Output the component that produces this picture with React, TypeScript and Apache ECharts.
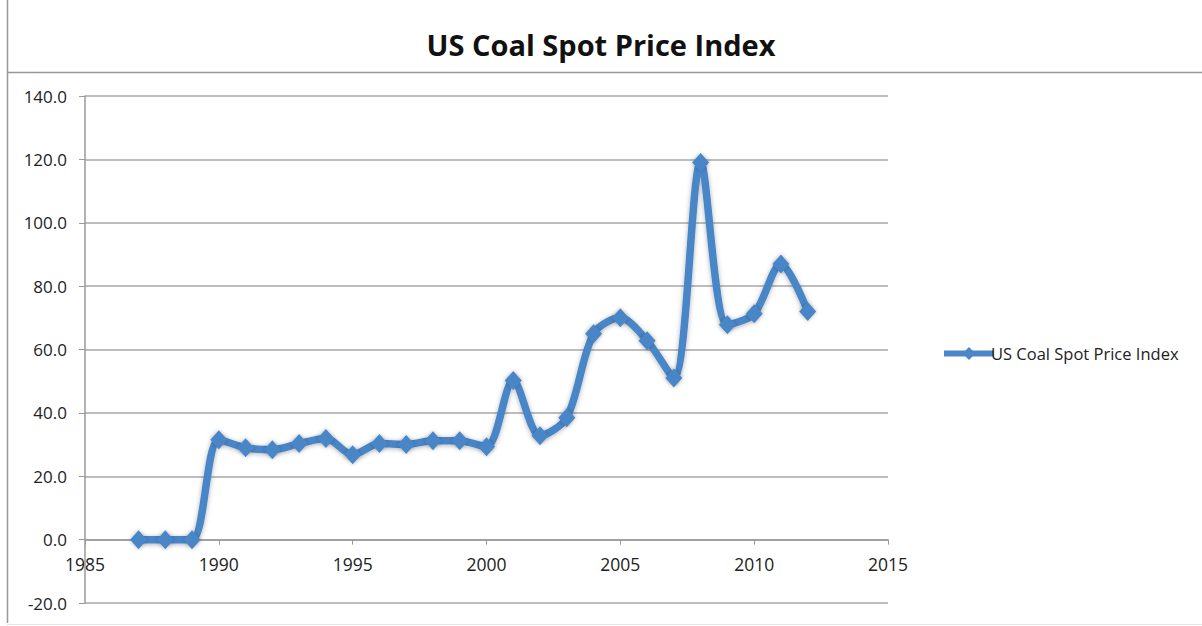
import React, { useEffect, useRef } from "react";
import * as echarts from "echarts";

const years = [1987, 1988, 1989, 1990, 1991, 1992, 1993, 1994, 1995, 1996, 1997, 1998, 1999, 2000, 2001, 2002, 2003, 2004, 2005, 2006, 2007, 2008, 2009, 2010, 2011, 2012];
const values = [0, 0, 0, 31.5, 29, 28.4, 30.3, 31.9, 26.8, 30.3, 30, 31.2, 31.2, 29.3, 50.2, 32.8, 38.5, 65, 70, 62.8, 51, 119, 67.8, 71.3, 87, 72];
const seriesName = "US Coal Spot Price Index";
const titleText = "US Coal Spot Price Index";

export default function App() {
  const ref = useRef<HTMLDivElement>(null);
  useEffect(() => {
    const chart = echarts.init(ref.current!, null, { renderer: "svg" });
    const blue = "#4a86c8";
    const font = "Open Sans";
    chart.setOption({
      animation: false,
      backgroundColor: "#ffffff",
      title: {
        text: titleText,
        left: "center",
        top: 25,
        textStyle: { fontFamily: font, fontSize: 29, fontWeight: "bold", color: "#111" },
      },
      graphic: [
        { type: "line", shape: { x1: 7.5, y1: 0, x2: 7.5, y2: 623 }, style: { stroke: "#999", lineWidth: 1.5 } },
        { type: "line", shape: { x1: 7, y1: 72.5, x2: 1202, y2: 72.5 }, style: { stroke: "#999", lineWidth: 1.5 } },
        { type: "line", shape: { x1: 7, y1: 624.5, x2: 1202, y2: 624.5 }, style: { stroke: "#e4e4e4", lineWidth: 1 } },
      ],
      legend: {
        data: [seriesName],
        left: 936,
        top: 340,
        itemWidth: 50,
        itemHeight: 16,
        itemGap: 0,
        lineStyle: { width: 6 },
        textStyle: { fontFamily: font, fontSize: 16.5, color: "#222", padding: [0, 0, 0, -8] },
      },
      grid: { left: 85, right: 314, top: 96, bottom: 23, containLabel: false },
      xAxis: {
        type: "value",
        min: 1985,
        max: 2015,
        interval: 5,
        axisLine: { onZero: true, lineStyle: { color: "#999", width: 1.5 } },
        axisTick: { show: true, length: 5, inside: false, lineStyle: { color: "#999" } },
        axisLabel: { fontFamily: font, fontSize: 17.5, color: "#222", margin: -48, formatter: (v: number) => String(v) },
        splitLine: { show: false },
      },
      yAxis: {
        type: "value",
        min: -20,
        max: 140,
        interval: 20,
        axisLine: { show: true, lineStyle: { color: "#999", width: 1.5 } },
        axisTick: { show: true, length: 6, lineStyle: { color: "#999" } },
        axisLabel: { fontFamily: font, fontSize: 17, color: "#222", margin: 18, formatter: (v: number) => v.toFixed(1) },
        splitLine: { show: true, lineStyle: { color: "#bdbdbd", width: 2 } },
      },
      series: [
        {
          name: seriesName,
          type: "line",
          data: years.map((y, i) => [y, values[i]]),
          smooth: 0.3,
          symbol: "diamond",
          symbolSize: [17, 19],
          itemStyle: { color: blue, shadowBlur: 4, shadowColor: "rgba(0,0,0,0.3)" },
          lineStyle: { color: blue, width: 7.5, shadowBlur: 5, shadowColor: "rgba(0,0,0,0.3)", shadowOffsetY: 1 },
        },
      ],
    });
    return () => chart.dispose();
  }, []);
  return <div ref={ref} style={{ position: "fixed", left: 0, top: 0, width: 1202, height: 626 }} />;
}
